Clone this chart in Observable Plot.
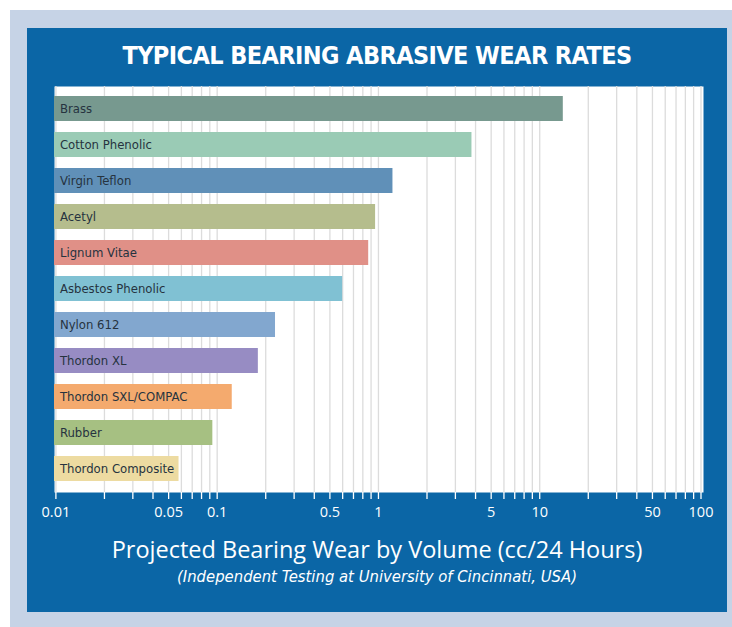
<!DOCTYPE html>
<html>
<head>
<meta charset="utf-8">
<script src="https://cdn.jsdelivr.net/npm/d3@7"></script>
<script src="https://cdn.jsdelivr.net/npm/@observablehq/plot@0.6"></script>
<style>
  html, body { margin: 0; padding: 0; background: #ffffff; }
  #page { position: relative; width: 732px; height: 627px; overflow: hidden; }
  #frame { position: absolute; left: 10px; top: 10px; width: 722px; height: 617px; background: #c6d3e6; }
  #panel { position: absolute; left: 27px; top: 28px; width: 700px; height: 584px; background: #0b66a6; }
  #title { position: absolute; left: 27px; top: 41px; width: 700px; text-align: center; color: #ffffff;
           font-family: "DejaVu Sans Condensed", "DejaVu Sans", sans-serif; font-stretch: condensed;
           font-weight: bold; font-size: 25px; letter-spacing: -0.6px; }
  #chart { position: absolute; left: 27px; top: 86px; }
  #xlabel { position: absolute; left: 27px; top: 533px; width: 700px; text-align: center; color: #ffffff;
            font-family: "Open Sans", sans-serif; font-size: 23.5px; }
  #source { position: absolute; left: 27px; top: 567px; width: 700px; text-align: center; color: #ffffff;
            font-family: "DejaVu Sans Condensed", "DejaVu Sans", sans-serif; font-stretch: condensed;
            font-style: italic; font-size: 16.5px; }
</style>
</head>
<body>
<div id="page">
  <div id="frame"></div>
  <div id="panel"></div>
  <div id="title">TYPICAL BEARING ABRASIVE WEAR RATES</div>
  <div id="chart"></div>
  <div id="xlabel">Projected Bearing Wear by Volume (cc/24 Hours)</div>
  <div id="source">(Independent Testing at University of Cincinnati, USA)</div>
</div>
<script>
const materials = ["Brass", "Cotton Phenolic", "Virgin Teflon", "Acetyl", "Lignum Vitae",
  "Asbestos Phenolic", "Nylon 612", "Thordon XL", "Thordon SXL/COMPAC", "Rubber", "Thordon Composite"];
const wear = [14, 3.8, 1.23, 0.96, 0.87, 0.6, 0.23, 0.18, 0.124, 0.094, 0.058];
const barColors = ["#77998f", "#9acbb5", "#6090b8", "#b5bd8d", "#e09087", "#80c1d3",
  "#82a7cf", "#978cc3", "#f4aa6e", "#a6c082", "#eddba1"];
const gridTicks = [0.01, 0.02, 0.03, 0.04, 0.05, 0.06, 0.07, 0.08, 0.09,
  0.1, 0.2, 0.3, 0.4, 0.5, 0.6, 0.7, 0.8, 0.9,
  1, 2, 3, 4, 5, 6, 7, 8, 9,
  10, 20, 30, 40, 50, 60, 70, 80, 90, 100];
const tickLabels = ["0.01", "0.05", "0.1", "0.5", "1", "5", "10", "50", "100"];

const data = materials.map((m, i) => ({material: m, wear: wear[i], color: barColors[i]}));

const chart = Plot.plot({
  width: 700,
  height: 441,
  marginLeft: 28.4,
  marginRight: 26.5,
  marginTop: 0,
  marginBottom: 35,
  style: {background: "transparent", overflow: "visible"},
  x: {type: "log", domain: [0.01, 100], axis: null},
  y: {domain: materials, paddingInner: 0.295, paddingOuter: 0.26, axis: null},
  color: {type: "identity"},
  marks: [
    Plot.frame({fill: "white", stroke: null, insetLeft: -1.4, insetRight: -2.5}),
    Plot.ruleX(gridTicks, {x: d => d, stroke: "#dcdcdc", strokeWidth: 1.3}),
    Plot.barX(data, {x1: 0.01, x2: "wear", y: "material", fill: d => d.color, insetLeft: -1.4}),
    Plot.text(data, {x: 0.01, y: "material", text: "material", dx: 4, textAnchor: "start",
      fill: "#26333f", fontSize: 13, fontFamily: "'DejaVu Sans Condensed', 'DejaVu Sans', sans-serif"}),
    Plot.tickX(gridTicks, {x: d => d, stroke: "white", strokeWidth: 1.3, insetTop: 406, insetBottom: -7}),
    Plot.text(tickLabels, {x: d => +d, text: d => d, frameAnchor: "bottom", dy: 24,
      fill: "white", fontSize: 14.5, fontFamily: "'Open Sans', sans-serif"})
  ]
});
document.getElementById("chart").appendChild(chart);
</script>
</body>
</html>
